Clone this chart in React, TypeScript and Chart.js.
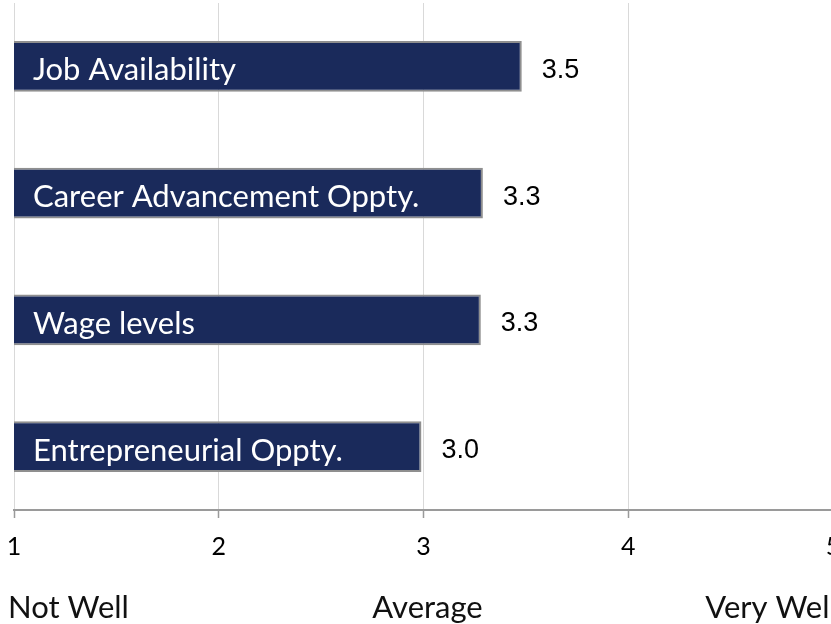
import React, { useEffect, useRef } from "react";
import { Chart, registerables } from "chart.js";

Chart.register(...registerables);

const categories = ["Job Availability", "Career Advancement Oppty.", "Wage levels", "Entrepreneurial Oppty."];
const scores = [3.48, 3.29, 3.28, 2.99];
const tickValues = [1, 2, 3, 4, 5];
const scaleNotes = ["Not Well", "Average", "Very Well"];

const GILL = "Lato, 'Open Sans', sans-serif";

const labelPlugin = {
  id: "barLabels",
  afterDatasetsDraw(chart: any) {
    const ctx = chart.ctx;
    const meta = chart.getDatasetMeta(0);
    const xs = chart.scales.x;
    ctx.save();
    meta.data.forEach((bar: any, i: number) => {
      const y = bar.y;
      ctx.textBaseline = "middle";
      ctx.textAlign = "left";
      ctx.fillStyle = "#ffffff";
      ctx.font = "31px " + GILL;
      ctx.fillText(categories[i], xs.getPixelForValue(1) + 19, y + 4);
      ctx.fillStyle = "#000000";
      ctx.font = "27px 'Liberation Sans', Arial, sans-serif";
      ctx.fillText(scores[i].toFixed(1), bar.x + 20, y + 4);
    });
    ctx.restore();
  },
  afterDraw(chart: any) {
    const ctx = chart.ctx;
    const xs = chart.scales.x;
    ctx.save();
    ctx.fillStyle = "#111111";
    ctx.font = "31px " + GILL;
    ctx.textBaseline = "alphabetic";
    ctx.textAlign = "left";
    ctx.fillText(scaleNotes[0], xs.getPixelForValue(1) - 6, 618);
    ctx.textAlign = "center";
    ctx.fillText(scaleNotes[1], xs.getPixelForValue(3) + 4, 618);
    ctx.textAlign = "left";
    ctx.fillText(scaleNotes[2], xs.getPixelForValue(4) + 77, 618);
    ctx.restore();
  },
};

export default function App() {
  const ref = useRef<HTMLCanvasElement | null>(null);
  useEffect(() => {
    if (!ref.current) return;
    const chart = new Chart(ref.current, {
      type: "bar",
      data: {
        labels: categories,
        datasets: [
          {
            data: scores,
            backgroundColor: "#1a2a5b",
            borderColor: "#8f8f8f",
            borderWidth: 2,
            borderSkipped: false,
            categoryPercentage: 1,
            barPercentage: 0.4,
          },
        ],
      },
      options: {
        indexAxis: "y",
        animation: false,
        responsive: false,
        maintainAspectRatio: false,
        layout: { padding: { left: 14, right: 12, top: 3, bottom: 0 } },
        plugins: { legend: { display: false }, tooltip: { enabled: false } },
        scales: {
          y: { display: false },
          x: {
            type: "linear",
            min: 1,
            max: 5,
            afterBuildTicks(scale: any) {
              scale.ticks = tickValues.map((v) => ({ value: v }));
            },
            grid: {
              color: "#d9d9d9",
              lineWidth: 1,
              drawTicks: true,
              tickLength: 8,
              tickColor: "#9a9a9a",
              tickWidth: 1.5,
            },
            border: { display: true, color: "#9a9a9a", width: 2 },
            ticks: {
              color: "#000000",
              font: { family: GILL, size: 25 },
              padding: 14,
              maxRotation: 0,
              callback: (v: any) => String(v),
            },
            afterFit(scale: any) {
              scale.height = 114;
              scale.paddingLeft = 0;
              scale.paddingRight = 0;
            },
          },
        },
      },
      plugins: [labelPlugin],
    });
    return () => chart.destroy();
  }, []);
  return (
    <div style={{ position: "fixed", left: 0, top: 0, width: 831, height: 624, overflow: "hidden", background: "#fff" }}>
      <canvas ref={ref} width={845} height={624} style={{ width: 845, height: 624, display: "block" }} />
    </div>
  );
}
